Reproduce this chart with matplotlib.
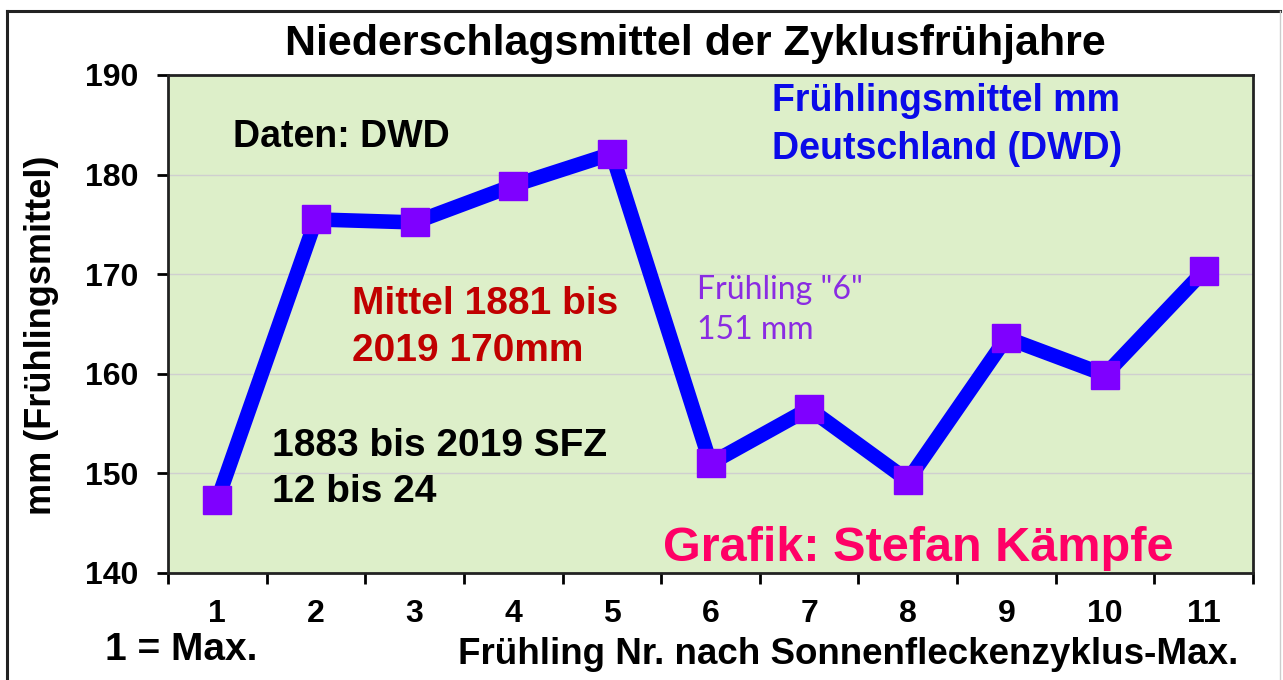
import matplotlib.pyplot as plt
from matplotlib.lines import Line2D

# values
spring_nr = [1, 2, 3, 4, 5, 6, 7, 8, 9, 10, 11]
precip_mm = [147.3, 175.5, 175.2, 178.9, 182.1, 151.0, 156.5, 149.3, 163.6, 159.9, 170.3]
y_ticks = [140, 150, 160, 170, 180, 190]

plt.rcParams['font.family'] = ['Liberation Sans', 'DejaVu Sans']

W, H = 1283, 680
fig = plt.figure(figsize=(W / 100, H / 100), dpi=100)
fig.patch.set_facecolor('white')

# outer frame of the picture
fig.add_artist(Line2D([7 / W, 7 / W], [0, 1 - 11 / H], color='#222222', lw=2.2))
fig.add_artist(Line2D([7 / W, 1280 / W], [1 - 11 / H, 1 - 11 / H], color='#222222', lw=2.2))
fig.add_artist(Line2D([1280 / W, 1280 / W], [0, 1 - 11 / H], color='#cccccc', lw=1))

left, right, top, bottom = 168, 1253, 75, 573
ax = fig.add_axes([left / W, 1 - bottom / H, (right - left) / W, (bottom - top) / H])
ax.set_facecolor('#ddefc9')

ax.plot(spring_nr, precip_mm, color='#0000ff', lw=10.5, solid_joinstyle='miter', zorder=3,
        marker='s', markersize=20, markerfacecolor='#7f00ff', markeredgecolor='#7f00ff')

ax.set_xlim(0.5, 11.5)
ax.set_ylim(140, 190)
ax.set_yticks(y_ticks)
ax.set_yticklabels([str(v) for v in y_ticks], fontsize=23, fontweight='bold')
ax.set_xticks([x + 0.5 for x in range(0, 11)] + [11.5])
ax.set_xticklabels([])
ax.set_xticks(spring_nr, minor=True)
ax.set_xticklabels([str(v) for v in spring_nr], minor=True, fontsize=23, fontweight='bold')
ax.tick_params(axis='x', which='minor', length=0, pad=19)
ax.tick_params(axis='x', which='major', length=8, width=2, direction='out')
ax.tick_params(axis='y', length=8, width=2, direction='out', pad=13)
ax.grid(axis='y', color='#cfcfcf', lw=1)
ax.set_axisbelow(True)

for s in ax.spines.values():
    s.set_linewidth(2)
    s.set_color('#222222')

fig.text(42 / W, 1 - 335 / H, 'mm (Frühlingsmittel)', fontsize=26, fontweight='bold',
         rotation=90, ha='center', va='center')

fig.text(695 / W, 1 - 44 / H, 'Niederschlagsmittel der Zyklusfrühjahre', fontsize=31,
         fontweight='bold', ha='center', va='center')

ax.text(0.060, 0.8755, 'Daten: DWD', transform=ax.transAxes, fontsize=27, fontweight='bold',
        color='black', va='center')
ax.text(0.557, 0.90, 'Frühlingsmittel mm\nDeutschland (DWD)', transform=ax.transAxes,
        fontsize=27, fontweight='bold', color='#0a0ae8', va='center', linespacing=1.43)
ax.text(0.1696, 0.493, 'Mittel 1881 bis\n2019 170mm', transform=ax.transAxes,
        fontsize=28, fontweight='bold', color='#c00000', va='center', linespacing=1.4)
ax.text(0.4876, 0.528, 'Frühling "6"\n151 mm', transform=ax.transAxes,
        fontsize=23, color='#8a2be2', va='center', linespacing=1.4, family=['Lato', 'DejaVu Sans'])
ax.text(0.0959, 0.2088, '1883 bis 2019 SFZ\n12 bis 24', transform=ax.transAxes,
        fontsize=28, fontweight='bold', color='black', va='center', linespacing=1.38)
ax.text(0.456, 0.050, 'Grafik: Stefan Kämpfe', transform=ax.transAxes,
        fontsize=35, fontweight='bold', color='#ff0066', va='center')

fig.text(105 / W, 1 - 650 / H, '1 = Max.', fontsize=28, fontweight='bold', va='center')
fig.text(458 / W, 1 - 655 / H, 'Frühling Nr. nach Sonnenfleckenzyklus-Max.', fontsize=26.5,
         fontweight='bold', va='center')

fig.savefig('out.png', dpi=100)
